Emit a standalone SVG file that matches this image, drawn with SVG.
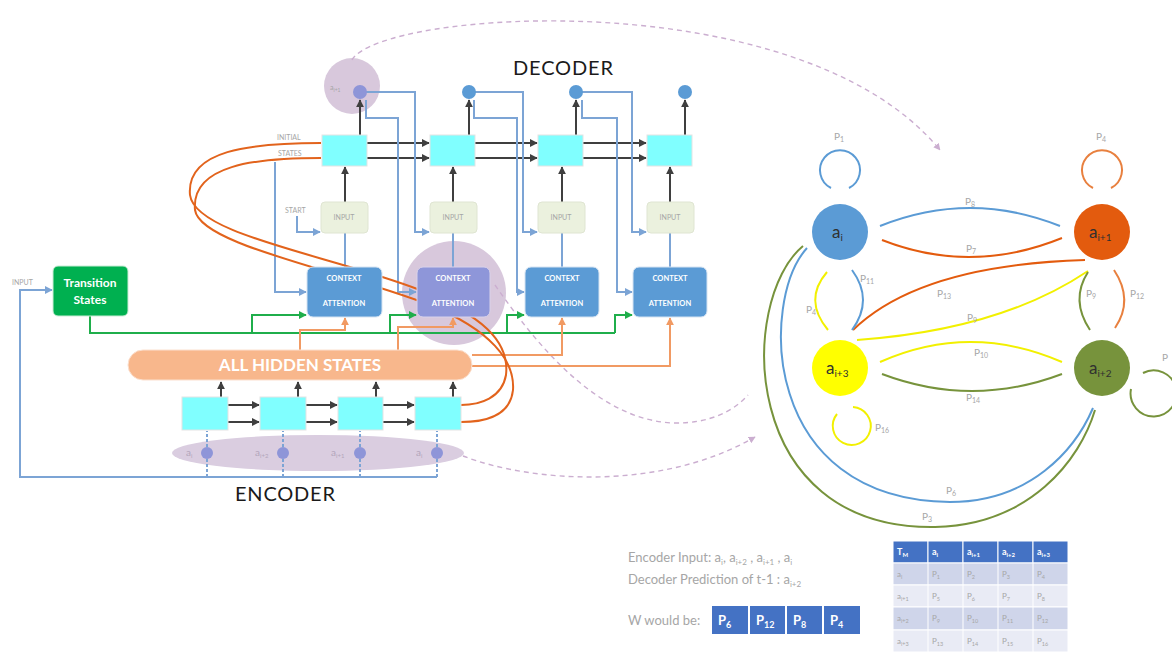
<svg xmlns="http://www.w3.org/2000/svg" width="1172" height="653" viewBox="0 0 1172 653">
<defs>
<style>
text{font-family:Lato,"Open Sans","Liberation Sans",sans-serif}
.cell{fill:#80ffff;stroke:#e3e3e3;stroke-width:1}
.inp{fill:#ebf1de;stroke:#dfe5d2;stroke-width:1}
.ctx{fill:#5b9bd5;stroke:#d5e3f2;stroke-width:1}
.blk{stroke:#3f3f3f;stroke-width:2;fill:none}
.blu{stroke:#7ca4d5;stroke-width:2;fill:none}
.grn{stroke:#1fae4b;stroke-width:2;fill:none}
.org{stroke:#f19a63;stroke-width:2;fill:none}
.orgd{stroke:#e2631c;stroke-width:2;fill:none}
.dash{stroke:#cbaed0;stroke-width:1.4;fill:none;stroke-dasharray:5 4}
.tiny{font-size:7px;fill:#a6a6a6}
.ctxt{font-size:7.5px;font-weight:bold;fill:#ffffff;text-anchor:middle}
.pl{font-size:10px;fill:#a6a6a6}
.pl tspan{font-size:7px}
.nd{font-size:17px;fill:#303030}
.nd tspan{font-size:10px}
.ttl{font-size:20px;fill:#1a1a1a}
.note{font-size:13px;fill:#a6a6a6}
.note tspan.s{font-size:8px}
.th{fill:#4472c4}
.r1{fill:#cfd5ea}
.r2{fill:#e9ebf5}
.tht{font-size:9px;font-weight:bold;fill:#ffffff}
.tdt{font-size:8px;fill:#a6a6a6}
.pbox{fill:#4472c4}
.pbt{font-size:13px;font-weight:bold;fill:#ffffff}
</style>
<marker id="aK" viewBox="0 0 10 10" refX="9" refY="5" markerWidth="4" markerHeight="4" orient="auto"><path d="M0 0L10 5L0 10z" fill="#3f3f3f"/></marker>
<marker id="aB" viewBox="0 0 10 10" refX="9" refY="5" markerWidth="4" markerHeight="4" orient="auto"><path d="M0 0L10 5L0 10z" fill="#7ca4d5"/></marker>
<marker id="aG" viewBox="0 0 10 10" refX="9" refY="5" markerWidth="4" markerHeight="4" orient="auto"><path d="M0 0L10 5L0 10z" fill="#1fae4b"/></marker>
<marker id="aO" viewBox="0 0 10 10" refX="9" refY="5" markerWidth="4" markerHeight="4" orient="auto"><path d="M0 0L10 5L0 10z" fill="#f19a63"/></marker>
<marker id="aP" viewBox="0 0 10 10" refX="9" refY="5" markerWidth="5" markerHeight="5" orient="auto"><path d="M0 0L10 5L0 10z" fill="#cbaed0"/></marker>
</defs>

<rect width="1172" height="653" fill="#ffffff"/>

<!-- highlight blobs behind the network -->
<g id="highlights">
<circle cx="352" cy="86" r="28" fill="#d8c8dc"/>
<circle cx="454" cy="293" r="52" fill="#d8c8dc"/>
<ellipse cx="318" cy="453" rx="146" ry="18" fill="#dacde0"/>
</g>

<!-- connectors -->
<g id="connectors">
<!-- dashed cross references to the state graph -->
<path class="dash" d="M352 60C380 10 800 -20 940 150" marker-end="url(#aP)"/>
<path class="dash" d="M495 285C540 350 600 420 673 423C710 424 735 410 748 395"/>
<path class="dash" d="M463 456C530 482 660 492 755 437" marker-end="url(#aP)"/>

<!-- decoder recurrence -->
<path class="blk" d="M367 143H429" marker-end="url(#aK)"/>
<path class="blk" d="M367 158H429" marker-end="url(#aK)"/>
<path class="blk" d="M475 143H537" marker-end="url(#aK)"/>
<path class="blk" d="M475 158H537" marker-end="url(#aK)"/>
<path class="blk" d="M583 143H646" marker-end="url(#aK)"/>
<path class="blk" d="M583 158H646" marker-end="url(#aK)"/>
<!-- cell to output -->
<path class="blk" d="M360 135V100" marker-end="url(#aK)"/>
<path class="blk" d="M469 135V100" marker-end="url(#aK)"/>
<path class="blk" d="M576 135V100" marker-end="url(#aK)"/>
<path class="blk" d="M685 135V100" marker-end="url(#aK)"/>
<!-- input to cell -->
<path class="blk" d="M345 202V167" marker-end="url(#aK)"/>
<path class="blk" d="M453 202V167" marker-end="url(#aK)"/>
<path class="blk" d="M562 202V167" marker-end="url(#aK)"/>
<path class="blk" d="M670 202V167" marker-end="url(#aK)"/>

<!-- context to input -->
<path class="blu" d="M345 267V233"/>
<path class="blu" d="M453 267V233"/>
<path class="blu" d="M562 267V233"/>
<path class="blu" d="M670 267V233"/>
<!-- start token -->
<path class="blu" d="M297 216V232H320" marker-end="url(#aB)"/>
<!-- previous output feeds next input -->
<path class="blu" d="M366 92H415V232H429" marker-end="url(#aB)"/>
<path class="blu" d="M475 92H523V232H537" marker-end="url(#aB)"/>
<path class="blu" d="M582 92H632V232H646" marker-end="url(#aB)"/>
<!-- state to next attention -->
<path class="blu" d="M275 162V292H306" marker-end="url(#aB)"/>
<path class="blu" d="M366 100V118H398V292H416" marker-end="url(#aB)"/>
<path class="blu" d="M474 100V118H517V292H524" marker-end="url(#aB)"/>
<path class="blu" d="M582 100V118H617V292H632" marker-end="url(#aB)"/>

<!-- transition states to attention -->
<path class="grn" d="M90 316V333H615"/>
<path class="grn" d="M252 333V315H306" marker-end="url(#aG)"/>
<path class="grn" d="M390 333V315H416" marker-end="url(#aG)"/>
<path class="grn" d="M507 333V315H524" marker-end="url(#aG)"/>
<path class="grn" d="M615 333V315H632" marker-end="url(#aG)"/>

<!-- hidden states to attention -->
<path class="org" d="M300 350V330H345V318" marker-end="url(#aO)"/>
<path class="org" d="M398 350V327H453V318" marker-end="url(#aO)"/>
<path class="org" d="M472 355H562V318" marker-end="url(#aO)"/>
<path class="org" d="M472 366H670V318" marker-end="url(#aO)"/>

<!-- final encoder state initialises decoder -->
<path class="orgd" d="M461 405C480 405 502 398 506 375C510 340 480 315 420 290C330 255 195 235 190 195C186 150 250 143 321 143"/>
<path class="orgd" d="M461 422C482 422 510 418 513 390C515 360 490 330 430 305C340 270 200 245 195 210C191 165 255 158 321 158"/>

<!-- encoder recurrence -->
<path class="blk" d="M228 405H259" marker-end="url(#aK)"/>
<path class="blk" d="M228 422H259" marker-end="url(#aK)"/>
<path class="blk" d="M306 405H337" marker-end="url(#aK)"/>
<path class="blk" d="M306 422H337" marker-end="url(#aK)"/>
<path class="blk" d="M383 405H414" marker-end="url(#aK)"/>
<path class="blk" d="M383 422H414" marker-end="url(#aK)"/>
<path class="blk" d="M221 397V382" marker-end="url(#aK)"/>
<path class="blk" d="M298 397V382" marker-end="url(#aK)"/>
<path class="blk" d="M376 397V382" marker-end="url(#aK)"/>
<path class="blk" d="M453 397V382" marker-end="url(#aK)"/>
<!-- encoder inputs -->
<path class="blu" d="M207 477V431" stroke-dasharray="3 2"/>
<path class="blu" d="M283 477V431" stroke-dasharray="3 2"/>
<path class="blu" d="M360 477V431" stroke-dasharray="3 2"/>
<path class="blu" d="M437 477V431" stroke-dasharray="3 2"/>
<path class="blu" d="M437 477H20V290H52" marker-end="url(#aB)"/>
</g>

<!-- decoder -->
<g id="decoder">
<text class="ttl" x="513" y="75" textLength="100" lengthAdjust="spacing">DECODER</text>
<text class="tiny" x="277" y="140">INITIAL</text>
<text class="tiny" x="278" y="156">STATES</text>
<text class="tiny" x="285" y="213">START</text>
<g id="dec-out">
<text class="tiny" x="330" y="90" fill="#b59fbb">a<tspan font-size="5" dy="1.5">i+1</tspan></text>
<circle cx="360" cy="92" r="7" fill="#8e95d8"/>
<circle cx="469" cy="92" r="7" fill="#5b9bd5"/>
<circle cx="576" cy="92" r="7" fill="#5b9bd5"/>
<circle cx="685" cy="92" r="7" fill="#5b9bd5"/>
</g>
<g id="dec-cells">
<rect class="cell" x="322" y="135" width="45" height="31"/>
<rect class="cell" x="430" y="135" width="45" height="31"/>
<rect class="cell" x="538" y="135" width="45" height="31"/>
<rect class="cell" x="647" y="135" width="45" height="31"/>
</g>
<g id="dec-inputs">
<rect class="inp" x="321" y="202" width="47" height="31" rx="4"/>
<rect class="inp" x="430" y="202" width="47" height="31" rx="4"/>
<rect class="inp" x="538" y="202" width="47" height="31" rx="4"/>
<rect class="inp" x="647" y="202" width="47" height="31" rx="4"/>
<text class="tiny" x="344" y="220" text-anchor="middle">INPUT</text>
<text class="tiny" x="453" y="220" text-anchor="middle">INPUT</text>
<text class="tiny" x="561" y="220" text-anchor="middle">INPUT</text>
<text class="tiny" x="670" y="220" text-anchor="middle">INPUT</text>
</g>
<g id="attention">
<rect class="ctx" x="307" y="267" width="75" height="50" rx="6"/>
<rect x="417" y="267" width="73" height="50" rx="6" fill="#8e96d9" stroke="#d9d2ea"/>
<rect class="ctx" x="525" y="267" width="74" height="50" rx="6"/>
<rect class="ctx" x="633" y="267" width="74" height="50" rx="6"/>
<text class="ctxt" x="344" y="281">CONTEXT</text><text class="ctxt" x="344" y="306">ATTENTION</text>
<text class="ctxt" x="453" y="281" fill="#d6d0f0">CONTEXT</text><text class="ctxt" x="453" y="306" fill="#d6d0f0">ATTENTION</text>
<text class="ctxt" x="562" y="281">CONTEXT</text><text class="ctxt" x="562" y="306">ATTENTION</text>
<text class="ctxt" x="670" y="281">CONTEXT</text><text class="ctxt" x="670" y="306">ATTENTION</text>
</g>
</g>

<!-- transition states -->
<g id="transition">
<text class="tiny" x="12" y="285">INPUT</text>
<rect x="53" y="266" width="75" height="50" rx="5" fill="#00b050" stroke="#c9ecd5"/>
<text x="90" y="287" font-size="12" font-weight="bold" fill="#ffffff" text-anchor="middle">Transition</text>
<text x="90" y="304" font-size="12" font-weight="bold" fill="#ffffff" text-anchor="middle">States</text>
</g>

<!-- hidden states bank -->
<g id="hidden">
<rect x="128" y="350" width="344" height="30" rx="15" fill="#f8b78c" stroke="#fbe0cf"/>
<text x="300" y="371" font-size="17" font-weight="bold" fill="#ffffff" text-anchor="middle">ALL HIDDEN STATES</text>
</g>

<!-- encoder -->
<g id="encoder">
<rect class="cell" x="182" y="397" width="46" height="33"/>
<rect class="cell" x="260" y="397" width="46" height="33"/>
<rect class="cell" x="338" y="397" width="45" height="33"/>
<rect class="cell" x="415" y="397" width="46" height="33"/>
<circle cx="207" cy="453" r="6" fill="#8e95d8"/>
<circle cx="283" cy="453" r="6" fill="#8e95d8"/>
<circle cx="360" cy="453" r="6" fill="#8e95d8"/>
<circle cx="437" cy="453" r="6" fill="#8e95d8"/>
<text x="186" y="456" font-size="10" fill="#b3a5bb">a<tspan font-size="6" dy="2">i</tspan></text>
<text x="255" y="456" font-size="10" fill="#b3a5bb">a<tspan font-size="6" dy="2">i+2</tspan></text>
<text x="331" y="456" font-size="10" fill="#b3a5bb">a<tspan font-size="6" dy="2">i+1</tspan></text>
<text x="416" y="456" font-size="10" fill="#b3a5bb">a<tspan font-size="6" dy="2">i</tspan></text>
<text class="ttl" x="235" y="501" textLength="100" lengthAdjust="spacing">ENCODER</text>
</g>

<!-- state transition graph -->
<g id="graph-edges" fill="none" stroke-width="2">
<!-- self loops, each open towards its state -->
<path d="M831 188A20 20 0 1 1 849 188" stroke="#5b9bd5"/>
<path d="M1093 188A20 20 0 1 1 1111 188" stroke="#e8803f"/>
<path d="M853 407A19 19 0 1 1 837 414" stroke="#f2f000"/>
<path d="M1143 373A23 23 0 1 1 1131 389" stroke="#77933c"/>
<path d="M880 226Q970 190 1060 226" stroke="#5b9bd5"/>
<path d="M882 240Q971 275 1062 238" stroke="#e35b0e"/>
<path d="M1085 260Q920 265 853 330" stroke="#e35b0e"/>
<path d="M1088 271Q1000 330 857 340" stroke="#f2f000"/>
<path d="M827 272Q803 300 828 330" stroke="#f2f000"/>
<path d="M852 270Q874 300 852 330" stroke="#5b9bd5"/>
<path d="M880 362Q970 322 1062 362" stroke="#f2f000"/>
<path d="M882 374Q972 408 1062 374" stroke="#77933c"/>
<path d="M1088 272Q1070 300 1090 330" stroke="#77933c"/>
<path d="M1114 270Q1134 300 1115 328" stroke="#e8803f"/>
<path d="M807 248C760 300 760 500 950 502C1030 502 1075 450 1093 408" stroke="#5b9bd5"/>
<path d="M803 246C738 300 738 530 935 527C1030 525 1080 460 1095 410" stroke="#77933c"/>
</g>
<g id="graph-labels">
<text class="pl" x="834" y="140">P<tspan dy="2">1</tspan></text>
<text class="pl" x="1096" y="140">P<tspan dy="2">4</tspan></text>
<text class="pl" x="965" y="205">P<tspan dy="2">8</tspan></text>
<text class="pl" x="966" y="252">P<tspan dy="2">7</tspan></text>
<text class="pl" x="860" y="282">P<tspan dy="2">11</tspan></text>
<text class="pl" x="806" y="313">P<tspan dy="2">4</tspan></text>
<text class="pl" x="937" y="297" fill="#555">P<tspan dy="2">13</tspan></text>
<text class="pl" x="967" y="321" fill="#555">P<tspan dy="2">9</tspan></text>
<text class="pl" x="1086" y="297">P<tspan dy="2">9</tspan></text>
<text class="pl" x="1130" y="297">P<tspan dy="2">12</tspan></text>
<text class="pl" x="974" y="356">P<tspan dy="2">10</tspan></text>
<text class="pl" x="966" y="401">P<tspan dy="2">14</tspan></text>
<text class="pl" x="875" y="431">P<tspan dy="2">16</tspan></text>
<text class="pl" x="1162" y="361">P</text>
<text class="pl" x="946" y="494">P<tspan dy="2">6</tspan></text>
<text class="pl" x="922" y="520">P<tspan dy="2">3</tspan></text>
</g>
<g id="state-ai">
<circle cx="840" cy="232" r="28" fill="#5b9bd5"/>
<text class="nd" x="832" y="238">a<tspan dy="3">i</tspan></text>
</g>
<g id="state-ai1">
<circle cx="1102" cy="232" r="28" fill="#e35b0e"/>
<text class="nd" x="1089" y="238">a<tspan dy="3">i+1</tspan></text>
</g>
<g id="state-ai3">
<circle cx="840" cy="368" r="28" fill="#ffff00"/>
<text class="nd" x="826" y="374">a<tspan dy="3">i+3</tspan></text>
</g>
<g id="state-ai2">
<circle cx="1102" cy="368" r="28" fill="#77933c"/>
<text class="nd" x="1089" y="374">a<tspan dy="3">i+2</tspan></text>
</g>

<!-- worked example -->
<g id="example">
<text class="note" x="628" y="562">Encoder Input: a<tspan class="s" dy="3">i</tspan><tspan dy="-3">, a</tspan><tspan class="s" dy="3">i+2</tspan><tspan dy="-3"> , a</tspan><tspan class="s" dy="3">i+1</tspan><tspan dy="-3"> , a</tspan><tspan class="s" dy="3">i</tspan></text>
<text class="note" x="628" y="584">Decoder Prediction of t-1 : a<tspan class="s" dy="3">i+2</tspan></text>
<text class="note" x="628" y="625">W would be:</text>
<rect class="pbox" x="712" y="606" width="36" height="28"/>
<rect class="pbox" x="750" y="606" width="35" height="28"/>
<rect class="pbox" x="787" y="606" width="35" height="28"/>
<rect class="pbox" x="824" y="606" width="36" height="28"/>
<text class="pbt" x="718" y="625">P<tspan font-size="9" dy="3">6</tspan></text>
<text class="pbt" x="756" y="625">P<tspan font-size="9" dy="3">12</tspan></text>
<text class="pbt" x="793" y="625">P<tspan font-size="9" dy="3">8</tspan></text>
<text class="pbt" x="830" y="625">P<tspan font-size="9" dy="3">4</tspan></text>
</g>

<!-- transition matrix -->
<g id="matrix" stroke="#ffffff" stroke-width="1">
<rect class="th" x="893" y="541" width="35" height="22"/>
<rect class="th" x="928" y="541" width="35" height="22"/>
<rect class="th" x="963" y="541" width="35" height="22"/>
<rect class="th" x="998" y="541" width="35" height="22"/>
<rect class="th" x="1033" y="541" width="35" height="22"/>
<rect class="r1" x="893" y="563" width="175" height="22"/>
<rect class="r2" x="893" y="585" width="175" height="22"/>
<rect class="r1" x="893" y="607" width="175" height="23"/>
<rect class="r2" x="893" y="630" width="175" height="22"/>
<path d="M928 563V652M963 563V652M998 563V652M1033 563V652" fill="none"/>
</g>
<g id="matrix-text">
<text class="tht" x="897" y="555">T<tspan font-size="6" dy="2">M</tspan></text>
<text class="tht" x="932" y="555">a<tspan font-size="6" dy="2">i</tspan></text>
<text class="tht" x="967" y="555">a<tspan font-size="6" dy="2">i+1</tspan></text>
<text class="tht" x="1002" y="555">a<tspan font-size="6" dy="2">i+2</tspan></text>
<text class="tht" x="1037" y="555">a<tspan font-size="6" dy="2">i+3</tspan></text>
<text class="tdt" x="897" y="577">a<tspan font-size="5.5" dy="2">i</tspan></text>
<text class="tdt" x="897" y="599">a<tspan font-size="5.5" dy="2">i+1</tspan></text>
<text class="tdt" x="897" y="621">a<tspan font-size="5.5" dy="2">i+2</tspan></text>
<text class="tdt" x="897" y="644">a<tspan font-size="5.5" dy="2">i+3</tspan></text>
<text class="tdt" x="932" y="577">P<tspan font-size="5.5" dy="2">1</tspan></text>
<text class="tdt" x="967" y="577">P<tspan font-size="5.5" dy="2">2</tspan></text>
<text class="tdt" x="1002" y="577">P<tspan font-size="5.5" dy="2">3</tspan></text>
<text class="tdt" x="1037" y="577">P<tspan font-size="5.5" dy="2">4</tspan></text>
<text class="tdt" x="932" y="599">P<tspan font-size="5.5" dy="2">5</tspan></text>
<text class="tdt" x="967" y="599">P<tspan font-size="5.5" dy="2">6</tspan></text>
<text class="tdt" x="1002" y="599">P<tspan font-size="5.5" dy="2">7</tspan></text>
<text class="tdt" x="1037" y="599">P<tspan font-size="5.5" dy="2">8</tspan></text>
<text class="tdt" x="932" y="621">P<tspan font-size="5.5" dy="2">9</tspan></text>
<text class="tdt" x="967" y="621">P<tspan font-size="5.5" dy="2">10</tspan></text>
<text class="tdt" x="1002" y="621">P<tspan font-size="5.5" dy="2">11</tspan></text>
<text class="tdt" x="1037" y="621">P<tspan font-size="5.5" dy="2">12</tspan></text>
<text class="tdt" x="932" y="644">P<tspan font-size="5.5" dy="2">13</tspan></text>
<text class="tdt" x="967" y="644">P<tspan font-size="5.5" dy="2">14</tspan></text>
<text class="tdt" x="1002" y="644">P<tspan font-size="5.5" dy="2">15</tspan></text>
<text class="tdt" x="1037" y="644">P<tspan font-size="5.5" dy="2">16</tspan></text>
</g>
</svg>
